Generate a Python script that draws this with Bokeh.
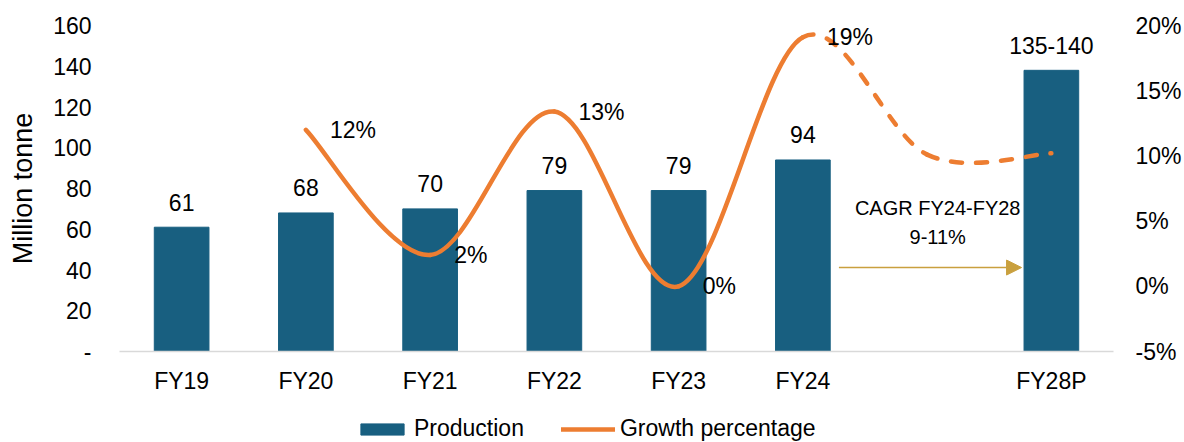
from bokeh.plotting import figure
from bokeh.layouts import column
from bokeh.models import (Range1d, LinearAxis, FixedTicker, PrintfTickFormatter,
                          ColumnDataSource, Legend, LegendItem, Label, Arrow, NormalHead)
from bokeh.core.properties import value
from bokeh.embed import file_html
from bokeh.resources import INLINE

# ---------------- data ----------------
slots = ["FY19", "FY20", "FY21", "FY22", "FY23", "FY24", "", "FY28P"]
production = [61, 68, 70, 79, 79, 94, None, 138]
production_labels = ["61", "68", "70", "79", "79", "94", "", "135-140"]
growth = [None, 12, 2.4, 13.4, 0, 19.1, 10.1, 10.2]
growth_labels = ["", "12%", "2%", "13%", "0%", "19%", "", ""]
dashed_after = "FY24"
left_ticks = [0, 20, 40, 60, 80, 100, 120, 140, 160]
right_ticks = [-5, 0, 5, 10, 15, 20]
cagr_lines = ["CAGR FY24-FY28", "9-11%"]
legend_labels = ["Production", "Growth percentage"]

FONT = "Liberation Sans"
BAR = "#185F80"
ORANGE = "#ED7D31"
GOLD = "#C9A03E"
TXT = "#000000"

p = figure(width=1184, height=396, output_backend="svg", toolbar_location=None,
           x_range=Range1d(-0.5, len(slots) - 0.5), y_range=Range1d(0, 160),
           min_border_left=119, min_border_right=70, min_border_top=25, min_border_bottom=45)
p.extra_y_ranges = {"growth": Range1d(-5, 20)}
p.outline_line_color = None
p.xgrid.grid_line_color = None
p.ygrid.grid_line_color = None
p.background_fill_color = "white"
p.border_fill_color = "white"


def plain(ax):
    ax.major_tick_line_color = None
    ax.minor_tick_line_color = None
    ax.major_tick_out = 0
    ax.major_tick_in = 0
    ax.minor_tick_out = 0
    ax.minor_tick_in = 0
    ax.major_label_text_font = FONT
    ax.major_label_text_font_size = "23px"
    ax.major_label_text_color = TXT


# axes
xa = p.xaxis[0]
plain(xa)
xa.ticker = FixedTicker(ticks=[i for i, s in enumerate(slots) if s])
xa.major_label_overrides = {i: s for i, s in enumerate(slots) if s}
xa.axis_line_color = "#D9D9D9"
xa.axis_line_width = 1.5
xa.major_label_standoff = 16

ya = p.yaxis[0]
plain(ya)
ya.ticker = FixedTicker(ticks=left_ticks)
ya.major_label_overrides = {0: "-"}
ya.axis_line_color = None
ya.major_label_standoff = 28
ya.axis_label = "Million tonne"
ya.axis_label_text_font = FONT
ya.axis_label_text_font_size = "27px"
ya.axis_label_text_font_style = "normal"
ya.axis_label_text_color = TXT
ya.axis_label_standoff = 12

ra = LinearAxis(y_range_name="growth", ticker=FixedTicker(ticks=right_ticks),
                formatter=PrintfTickFormatter(format="%d%%"))
plain(ra)
ra.axis_line_color = None
ra.major_label_standoff = 22
p.add_layout(ra, "right")

# bars
bx = [i for i, v in enumerate(production) if v is not None]
bsrc = ColumnDataSource(dict(x=bx, top=[production[i] for i in bx],
                             lab=[production_labels[i] for i in bx]))
p.vbar(x="x", top="top", width=0.44, source=bsrc, fill_color=BAR, line_color=BAR)
p.text(x="x", y="top", text="lab", source=bsrc, text_align="center",
       text_baseline="alphabetic", y_offset=-25, text_font=value(FONT),
       text_font_size="23px", text_color=TXT)

# smooth growth line (Catmull-Rom as cubic Bezier through the data points)
pts = [(i, g) for i, g in enumerate(growth) if g is not None]
n = len(pts)
cut = slots.index(dashed_after)
seg = {"solid": dict(x0=[], y0=[], x1=[], y1=[], cx0=[], cy0=[], cx1=[], cy1=[]),
       "dash": dict(x0=[], y0=[], x1=[], y1=[], cx0=[], cy0=[], cx1=[], cy1=[])}
for k in range(n - 1):
    x0, y0 = pts[k]
    x1, y1 = pts[k + 1]
    xp, yp = pts[k - 1] if k > 0 else pts[k]
    xn, yn = pts[k + 2] if k + 2 < n else pts[k + 1]
    d = seg["solid"] if x1 <= cut else seg["dash"]
    d["x0"].append(x0); d["y0"].append(y0)
    d["x1"].append(x1); d["y1"].append(y1)
    d["cx0"].append(x0 + (x1 - xp) / 6); d["cy0"].append(y0 + (y1 - yp) / 6)
    d["cx1"].append(x1 - (xn - x0) / 6); d["cy1"].append(y1 - (yn - y0) / 6)

p.bezier(source=ColumnDataSource(seg["solid"]), x0="x0", y0="y0", x1="x1", y1="y1",
         cx0="cx0", cy0="cy0", cx1="cx1", cy1="cy1", line_color=ORANGE,
         line_width=4.5, line_cap="round", y_range_name="growth")
p.bezier(source=ColumnDataSource(seg["dash"]), x0="x0", y0="y0", x1="x1", y1="y1",
         cx0="cx0", cy0="cy0", cx1="cx1", cy1="cy1", line_color=ORANGE,
         line_width=4.5, line_cap="round", line_dash="11 14", y_range_name="growth")

gx = [i for i, l in enumerate(growth_labels) if l]
p.text(x=gx, y=[growth[i] for i in gx], text=[growth_labels[i] for i in gx],
       y_range_name="growth", text_align="left", text_baseline="middle", x_offset=24,
       text_font=value(FONT), text_font_size="23px", text_color=TXT)

# CAGR annotation
i24 = slots.index("FY24")
i28 = slots.index("FY28P")
p.add_layout(Arrow(end=NormalHead(size=15, fill_color=GOLD, line_color=GOLD),
                   x_start=i24 + 0.29, y_start=41.2, x_end=i28 - 0.24, y_end=41.2,
                   line_color=GOLD, line_width=1.5))
for txt, yy in zip(cagr_lines, [70.2, 56.4]):
    p.add_layout(Label(x=(i24 + i28) / 2 + 0.085, y=yy, text=txt, text_align="center",
                       text_baseline="middle", text_font=FONT, text_font_size="20px",
                       text_color=TXT))

# legend strip: a second figure below the chart whose view range hides the series,
# so that only the legend (with the same series styles) is visible
lf = figure(width=1184, height=46, output_backend="svg", toolbar_location=None,
            x_range=p.x_range, y_range=Range1d(1000, 1001), x_axis_type=None,
            y_axis_type=None, min_border_left=119, min_border_right=70,
            min_border_top=0, min_border_bottom=0)
lf.outline_line_color = None
lf.xgrid.grid_line_color = None
lf.ygrid.grid_line_color = None
lb = lf.vbar(x="x", top="top", width=0.44, source=bsrc, fill_color=BAR, line_color=BAR)
ll = lf.line(x=[pt[0] for pt in pts], y=[pt[1] for pt in pts], line_color=ORANGE,
             line_width=4.5, line_cap="round")
legend = Legend(items=[LegendItem(label=legend_labels[0], renderers=[lb]),
                       LegendItem(label=legend_labels[1], renderers=[ll])],
                orientation="horizontal", location=(236, 0),
                label_text_font=FONT, label_text_font_size="23px", label_text_color=TXT,
                glyph_width=54, glyph_height=14, spacing=37, padding=0, margin=0,
                label_standoff=5, border_line_color=None, background_fill_alpha=0)
lf.add_layout(legend, "center")

layout = column(p, lf, spacing=0)
open("out.html", "w").write(file_html(layout, INLINE))
